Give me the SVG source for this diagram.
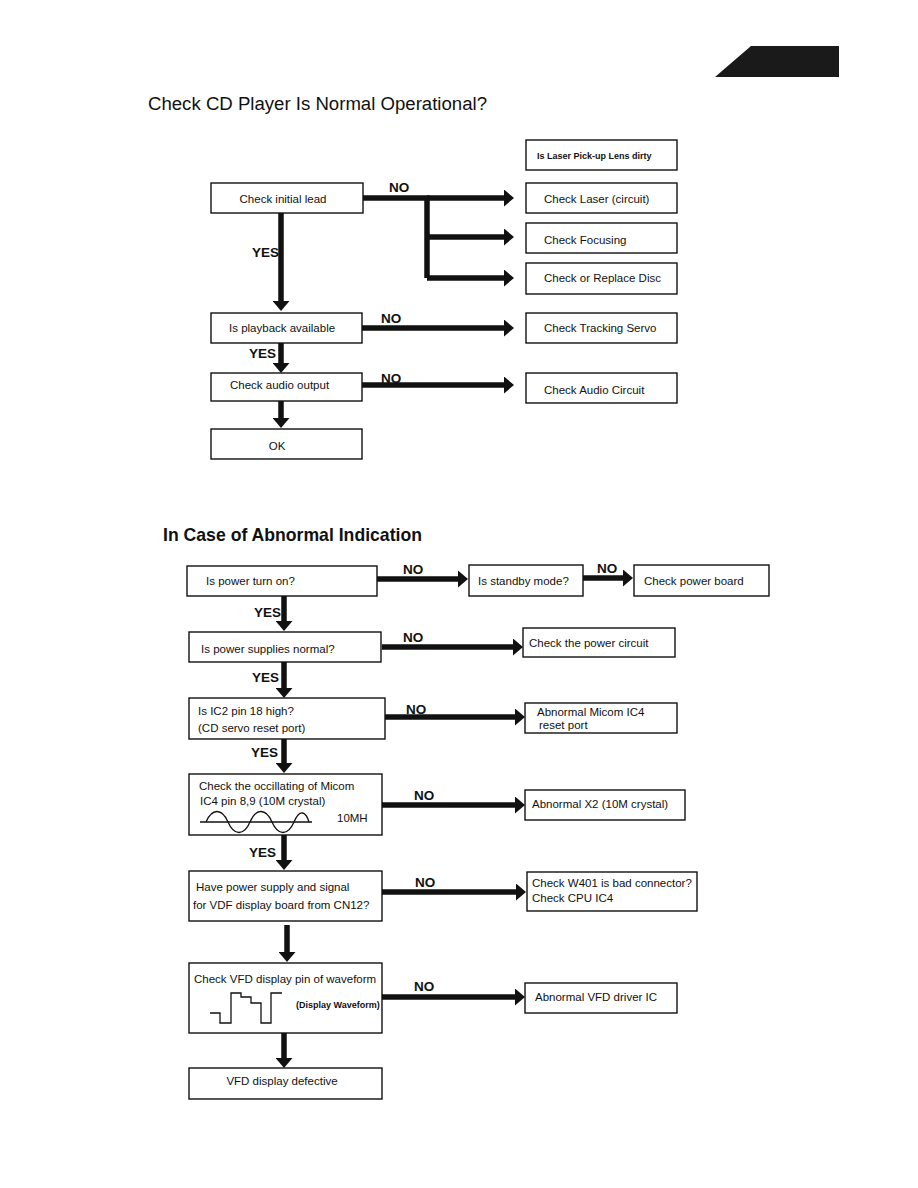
<svg xmlns="http://www.w3.org/2000/svg" width="918" height="1188" viewBox="0 0 918 1188">
<style>
.bg{fill:#fff}
.box{fill:#fff;stroke:#111;stroke-width:1.4}
.t{font-family:"Liberation Sans",Arial,sans-serif;font-size:11.5px;fill:#111}
.ts{font-family:"Liberation Sans",Arial,sans-serif;font-size:9px;font-weight:bold;fill:#111}
.lb{font-family:"Liberation Sans",Arial,sans-serif;font-size:13.5px;font-weight:bold;fill:#111}
.h1{font-family:"Liberation Sans",Arial,sans-serif;font-size:18px;fill:#111}
.h2{font-family:"Liberation Sans",Arial,sans-serif;font-size:19px;font-weight:bold;fill:#111}
.c{fill:none;stroke:#111;stroke-width:5.5}
.ca{fill:none;stroke:#111;stroke-width:5.5;marker-end:url(#ah)}
.w{fill:none;stroke:#111;stroke-width:1.3}
</style>
<defs>
<marker id="ah" viewBox="0 0 10 17" markerWidth="10" markerHeight="17" refX="1" refY="8.5" markerUnits="userSpaceOnUse" orient="auto">
<polygon points="0,0 10,8.5 0,17" fill="#111"/>
</marker>
</defs>
<rect class="bg" x="0" y="0" width="918" height="1188"/>
<polygon points="751,46 839,46 839,77 715,77" fill="#1a1a1a"/>
<text class="h1" x="148" y="110" textLength="339" lengthAdjust="spacingAndGlyphs">Check CD Player Is Normal Operational?</text>
<text class="h2" x="163" y="541" textLength="259" lengthAdjust="spacingAndGlyphs">In Case of Abnormal Indication</text>

<g id="connectors">
<path class="c" d="M363,198 H427 V278"/>
<path class="ca" d="M427,198 H505"/>
<path class="ca" d="M427,237 H505"/>
<path class="ca" d="M427,278 H505"/>
<path class="ca" d="M281,213 V302"/>
<path class="ca" d="M362,328 H505"/>
<path class="ca" d="M281,342 V364"/>
<path class="ca" d="M362,385 H505"/>
<path class="ca" d="M281,401 V419"/>

<path class="ca" d="M377,579 H459"/>
<path class="ca" d="M583,578 H624"/>
<path class="ca" d="M284,596 V622"/>
<path class="ca" d="M382,647 H514"/>
<path class="ca" d="M284,662 V689"/>
<path class="ca" d="M385,717 H516"/>
<path class="ca" d="M284,739 V764"/>
<path class="ca" d="M382,805 H516"/>
<path class="ca" d="M284,835 V861"/>
<path class="ca" d="M382,892 H517"/>
<path class="ca" d="M287,925 V953"/>
<path class="ca" d="M382,997 H516"/>
<path class="ca" d="M284,1033 V1059"/>
</g>

<g id="labels">
<text class="lb" x="389" y="192">NO</text>
<text class="lb" x="252" y="257">YES</text>
<text class="lb" x="381" y="323">NO</text>
<text class="lb" x="249" y="358">YES</text>
<text class="lb" x="381" y="383">NO</text>
<text class="lb" x="403" y="574">NO</text>
<text class="lb" x="597" y="573">NO</text>
<text class="lb" x="254" y="617">YES</text>
<text class="lb" x="403" y="642">NO</text>
<text class="lb" x="252" y="682">YES</text>
<text class="lb" x="406" y="714">NO</text>
<text class="lb" x="251" y="757">YES</text>
<text class="lb" x="414" y="800">NO</text>
<text class="lb" x="249" y="857">YES</text>
<text class="lb" x="415" y="887">NO</text>
<text class="lb" x="414" y="991">NO</text>
</g>

<g id="n-lens"><rect class="box" x="526" y="140" width="151" height="30"/><text class="ts" x="537" y="159">Is Laser Pick-up Lens dirty</text></g>
<g id="n-initial"><rect class="box" x="211" y="183" width="152" height="30"/><text class="t" x="283" y="203" text-anchor="middle">Check initial lead</text></g>
<g id="n-laser"><rect class="box" x="526" y="183" width="151" height="30"/><text class="t" x="544" y="203">Check Laser (circuit)</text></g>
<g id="n-focus"><rect class="box" x="526" y="223" width="151" height="30"/><text class="t" x="544" y="244">Check Focusing</text></g>
<g id="n-disc"><rect class="box" x="526" y="263" width="151" height="31"/><text class="t" x="544" y="282">Check or Replace Disc</text></g>
<g id="n-playback"><rect class="box" x="211" y="313" width="151" height="30"/><text class="t" x="229" y="332">Is playback available</text></g>
<g id="n-tracking"><rect class="box" x="526" y="313" width="151" height="30"/><text class="t" x="544" y="332">Check Tracking Servo</text></g>
<g id="n-audio-out"><rect class="box" x="211" y="373" width="151" height="28"/><text class="t" x="230" y="389">Check audio output</text></g>
<g id="n-audio-circ"><rect class="box" x="526" y="373" width="151" height="30"/><text class="t" x="544" y="394">Check Audio Circuit</text></g>
<g id="n-ok"><rect class="box" x="211" y="429" width="151" height="30"/><text class="t" x="277" y="450" text-anchor="middle">OK</text></g>

<g id="n-power-on"><rect class="box" x="187" y="566" width="190" height="30"/><text class="t" x="206" y="585">Is power turn on?</text></g>
<g id="n-standby"><rect class="box" x="469" y="565" width="114" height="31"/><text class="t" x="478" y="585">Is standby mode?</text></g>
<g id="n-power-board"><rect class="box" x="634" y="565" width="135" height="31"/><text class="t" x="644" y="585">Check power board</text></g>
<g id="n-supplies"><rect class="box" x="189" y="632" width="192" height="30"/><text class="t" x="201" y="653">Is power supplies normal?</text></g>
<g id="n-power-circ"><rect class="box" x="523" y="628" width="152" height="29"/><text class="t" x="529" y="647">Check the power circuit</text></g>
<g id="n-ic2"><rect class="box" x="189" y="698" width="196" height="41"/><text class="t" x="198" y="715">Is IC2 pin 18 high?</text><text class="t" x="198" y="732">(CD servo reset port)</text></g>
<g id="n-micom"><rect class="box" x="525" y="703" width="152" height="30"/><text class="t" x="537" y="716">Abnormal Micom IC4</text><text class="t" x="539" y="729">reset port</text></g>
<g id="n-osc"><rect class="box" x="189" y="774" width="193" height="61"/><text class="t" x="199" y="790">Check the occillating of Micom</text><text class="t" x="200" y="805">IC4 pin 8,9 (10M crystal)</text>
<path class="w" d="M200,822 H312"/>
<path class="w" d="M206,822 C212,808 222,808 228,822 S244,836 250,822 S266,808 272,822 S288,836 294,822"/>
<path class="w" d="M294,822 C300,808 306,812 309,822"/>
<text class="t" x="337" y="822" font-size="10.5">10MH</text></g>
<g id="n-x2"><rect class="box" x="525" y="790" width="160" height="30"/><text class="t" x="532" y="808">Abnormal X2 (10M crystal)</text></g>
<g id="n-cn12"><rect class="box" x="189" y="871" width="193" height="50"/><text class="t" x="196" y="891">Have power supply and signal</text><text class="t" x="193" y="909">for VDF display board from CN12?</text></g>
<g id="n-w401"><rect class="box" x="527" y="872" width="170" height="39"/><text class="t" x="532" y="887">Check W401 is bad connector?</text><text class="t" x="532" y="902">Check CPU IC4</text></g>
<g id="n-vfd"><rect class="box" x="189" y="963" width="193" height="70"/><text class="t" x="194" y="983">Check VFD display pin of waveform</text>
<path class="w" d="M210,1013 H220 V1023 H231 V993 H241 V997 H251 V1003 H261 V1023 H271 V993 H282"/>
<text class="ts" x="296" y="1008">(Display Waveform)</text></g>
<g id="n-driver"><rect class="box" x="525" y="983" width="152" height="30"/><text class="t" x="535" y="1001">Abnormal VFD driver IC</text></g>
<g id="n-defective"><rect class="box" x="189" y="1068" width="193" height="31"/><text class="t" x="282" y="1085" text-anchor="middle">VFD display defective</text></g>
</svg>
